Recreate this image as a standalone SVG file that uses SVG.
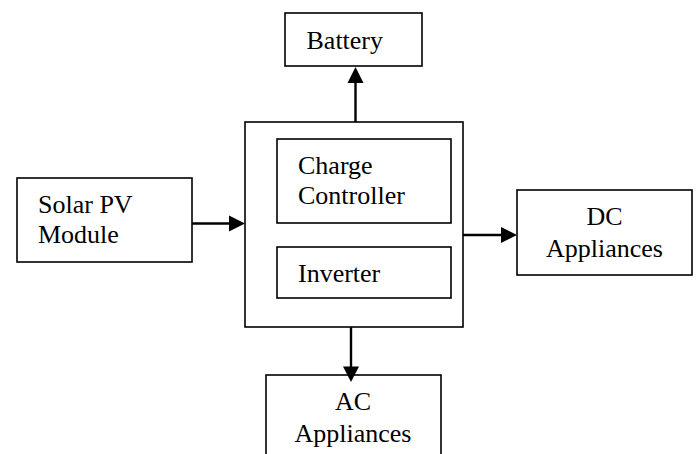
<svg xmlns="http://www.w3.org/2000/svg" width="696" height="454" viewBox="0 0 696 454">
<defs>
<style>
.box{fill:#fff;stroke:#000;stroke-width:1.6}
.lbl{font-family:"Liberation Serif","Times New Roman",serif;font-size:26px;fill:#000}
.mid{text-anchor:middle}
.conn{stroke:#000;stroke-width:2.4;fill:none}
.head{fill:#000;stroke:none}
</style>
</defs>
<rect width="696" height="454" fill="#fff"/>
<g id="battery">
<rect class="box" x="285" y="13" width="137" height="53"/>
<text class="lbl" x="306.5" y="49">Battery</text>
</g>
<g id="controller-unit">
<rect class="box" x="245" y="122" width="218" height="205"/>
</g>
<g id="charge-controller">
<rect class="box" x="277" y="139" width="174" height="84"/>
<text class="lbl" x="298" y="174">Charge</text>
<text class="lbl" x="298" y="204">Controller</text>
</g>
<g id="inverter">
<rect class="box" x="277" y="247" width="174" height="51"/>
<text class="lbl" x="298" y="282">Inverter</text>
</g>
<g id="solar-pv">
<rect class="box" x="17" y="178" width="175" height="84"/>
<text class="lbl" x="38" y="213">Solar PV</text>
<text class="lbl" x="38" y="243">Module</text>
</g>
<g id="dc-appliances">
<rect class="box" x="517" y="190" width="175" height="85"/>
<text class="lbl mid" x="604.5" y="225">DC</text>
<text class="lbl mid" x="604.5" y="257">Appliances</text>
</g>
<g id="ac-appliances">
<rect class="box" x="266" y="375" width="175" height="90"/>
<text class="lbl mid" x="353" y="410">AC</text>
<text class="lbl mid" x="353" y="442">Appliances</text>
</g>
<g id="connectors">
<line class="conn" x1="355.5" y1="122" x2="355.5" y2="80"/>
<polygon class="head" points="355.5,67 347.5,83 363.5,83"/>
<line class="conn" x1="192" y1="223.5" x2="232" y2="223.5"/>
<polygon class="head" points="245,223.5 229,215.5 229,231.5"/>
<line class="conn" x1="463" y1="235" x2="503" y2="235"/>
<polygon class="head" points="517,235 501,227 501,243"/>
<line class="conn" x1="351" y1="327" x2="351" y2="369"/>
<polygon class="head" points="351,382 343,366.5 359,366.5"/>
</g>
</svg>
